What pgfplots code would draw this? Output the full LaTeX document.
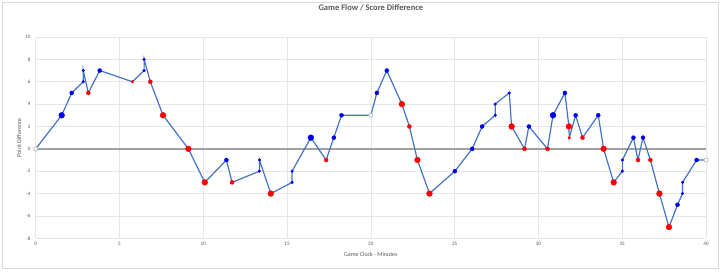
\documentclass[border=0pt]{standalone}
\usepackage{fontspec}
\setmainfont{Carlito}
\usepackage{pgfplots}
\pgfplotsset{compat=1.18}
\usepackage{pgfplotstable}
\definecolor{linec}{HTML}{4472C4}
\definecolor{gridc}{HTML}{E6E6E6}
\definecolor{textc}{HTML}{595959}
\definecolor{zeroc}{HTML}{A0A0A0}
\definecolor{borderc}{HTML}{D9D9D9}
\definecolor{mblue}{HTML}{0000F0}
\definecolor{mred}{HTML}{FF0000}

\pgfplotstableread{
x y c
0 0 w
1.55 3 bl
2.15 5 bm
2.84 6 bs
2.84 7 bs
3.14 5 rm
3.82 7 bm
5.77 6 rs
6.47 7 bs
6.47 8 bs
6.84 6 rm
7.60 3 rl
9.11 0 rl
10.09 -3 rl
11.38 -1 bm
11.72 -3 rm
13.35 -2 bs
13.35 -1 bs
14.03 -4 rl
15.30 -3 bs
15.30 -2 bs
16.42 1 bl
17.33 -1 rm
17.79 1 bm
18.25 3 bm
20.00 3 w
20.36 5 bm
20.95 7 bm
21.85 4 rl
22.30 2 rm
22.78 -1 rl
23.50 -4 rl
25.01 -2 bm
26.05 0 bm
26.64 2 bm
27.42 3 bs
27.42 4 bs
28.26 5 bs
28.40 2 rl
29.17 0 rm
29.43 2 bm
30.54 0 rm
30.87 3 bl
31.58 5 bm
31.82 2 rl
31.84 1 rs
32.22 3 bm
32.63 1 rm
33.57 3 bm
33.89 0 rl
34.49 -3 rl
35.01 -2 bs
35.01 -1 bs
35.67 1 bm
35.94 -1 rm
36.24 1 bm
36.68 -1 rm
37.22 -4 rl
37.79 -7 rl
38.30 -5 bm
38.60 -4 bs
38.60 -3 bs
39.44 -1 bm
40.00 -1 w
}\flow

\begin{document}
\begin{tikzpicture}[x=1pt,y=1pt]
\useasboundingbox (0,0) rectangle (720,272);
\draw[draw=borderc, line width=0.8pt, fill=white] (2.5,3.5) rectangle (718,269.5);
\begin{axis}[
  at={(35.7pt,33.7pt)}, anchor=south west,
  scale only axis, width=670.3pt, height=201.3pt,
  xmin=0, xmax=40, ymin=-8, ymax=10,
  xtick={0,5,...,40}, ytick={-8,-6,...,10},
  grid=major, major grid style={draw=gridc, line width=0.7pt},
  axis line style={draw=none}, major tick length=0pt,
  /pgf/number format/assume math mode=true,
  tick label style={font=\fontsize{5.2}{6}\selectfont, text=textc, inner sep=0pt},
  xticklabel style={anchor=north, yshift=-3.2pt},
  yticklabel style={anchor=east, xshift=-5pt},
  xlabel={Game Clock - Minutes},
  ylabel={Point Difference},
  every axis x label/.style={at={(axis description cs:0.5,0)}, anchor=center, yshift=-16.2pt, font=\fontsize{6}{7}\selectfont, text=textc},
  every axis y label/.style={at={(axis description cs:-0.0249,0.5)}, rotate=90, anchor=center, font=\fontsize{6}{7}\selectfont, text=textc},
  title={Game Flow / Score Difference},
  title style={font=\bfseries\fontsize{8.5}{10}\selectfont, text=textc, at={(axis description cs:0.5,1)}, anchor=center, yshift=23.7pt},
  clip=false,
]
\draw[zeroc, line width=2pt] (axis cs:0,0) -- (axis cs:40,0);
\addplot[linec, line width=1.2pt, no markers] table[x=x,y=y]{\flow};
\addplot[scatter, only marks, scatter src=explicit symbolic,
  scatter/classes={
    bl={mark=*, mark size=2.9pt, draw=mblue, fill=mblue},
    bm={mark=*, mark size=2.0pt, draw=mblue, fill=mblue},
    bs={mark=*, mark size=1.35pt, draw=mblue, fill=mblue},
    rl={mark=*, mark size=2.9pt, draw=mred, fill=mred},
    rm={mark=*, mark size=2.0pt, draw=mred, fill=mred},
    rs={mark=*, mark size=1.35pt, draw=mred, fill=mred},
    w={mark=*, mark size=2.1pt, draw=gray!60, fill=white, line width=0.6pt}}
  ] table[x=x,y=y,meta=c]{\flow};
\end{axis}
\end{tikzpicture}
\end{document}
